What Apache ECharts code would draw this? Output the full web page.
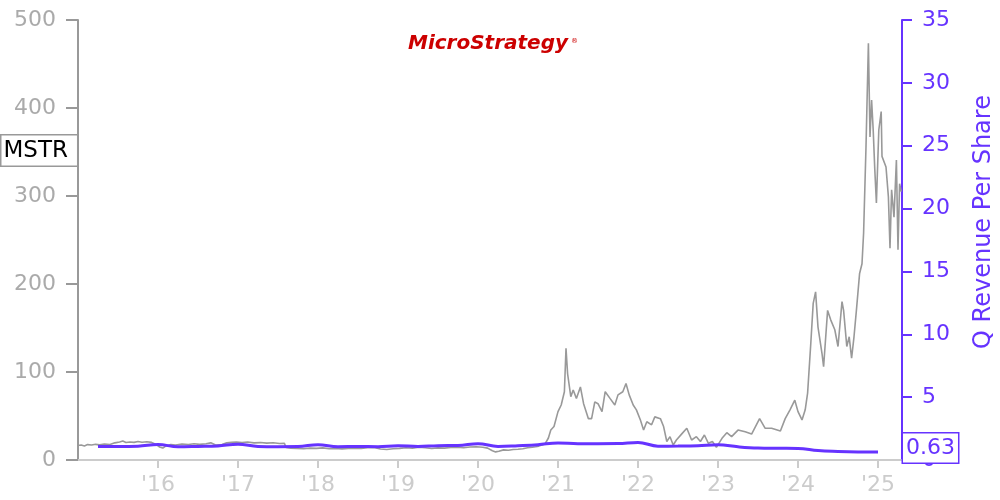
<!DOCTYPE html>
<html>
<head>
<meta charset="utf-8">
<script src="https://cdn.jsdelivr.net/npm/echarts@6/dist/echarts.min.js"></script>
<style>html,body{margin:0;padding:0;background:#fff}#c{width:1000px;height:500px}</style>
</head>
<body>
<div id="c"></div>
<script>
// MSTR share price (split-adjusted), decimal year -> price
const priceYears = [2015.00,2015.04,2015.08,2015.12,2015.17,2015.22,2015.27,2015.33,2015.40,2015.46,2015.52,2015.56,2015.60,2015.65,2015.70,2015.75,2015.80,2015.86,2015.92,2015.97,
2016.02,2016.06,2016.10,2016.16,2016.22,2016.30,2016.38,2016.45,2016.52,2016.60,2016.66,2016.72,2016.80,2016.86,2016.92,2016.98,
2017.05,2017.12,2017.20,2017.28,2017.36,2017.44,2017.52,2017.58,2017.60,2017.66,2017.74,2017.82,2017.90,2017.98,
2018.06,2018.14,2018.22,2018.30,2018.38,2018.46,2018.54,2018.62,2018.70,2018.78,2018.86,2018.94,
2019.02,2019.10,2019.18,2019.26,2019.34,2019.42,2019.50,2019.58,2019.66,2019.74,2019.82,2019.90,2019.98,
2020.06,2020.12,2020.18,2020.22,2020.26,2020.32,2020.38,2020.44,2020.50,2020.56,2020.62,2020.68,2020.72,2020.76,2020.80,2020.84,2020.88,2020.91,2020.95,
2021.00,2021.04,2021.08,2021.10,2021.12,2021.16,2021.19,2021.23,2021.28,2021.32,2021.38,2021.42,2021.46,2021.50,2021.55,2021.59,2021.65,2021.71,2021.75,2021.81,2021.85,2021.89,2021.94,2021.98,
2022.03,2022.07,2022.11,2022.17,2022.21,2022.28,2022.32,2022.36,2022.40,2022.44,2022.48,2022.55,2022.61,2022.67,2022.73,2022.78,2022.83,2022.88,2022.93,2022.98,
2023.05,2023.11,2023.17,2023.25,2023.34,2023.42,2023.52,2023.59,2023.67,2023.78,2023.84,2023.90,2023.96,
2024.00,2024.05,2024.09,2024.12,2024.16,2024.19,2024.22,2024.25,2024.30,2024.32,2024.37,2024.41,2024.46,2024.50,2024.55,2024.57,2024.61,2024.64,2024.67,2024.70,2024.73,2024.77,2024.80,2024.82,2024.85,2024.88,2024.90,2024.92,2024.94,2024.96,2024.98,
2025.01,2025.04,2025.05,2025.10,2025.13,2025.15,2025.17,2025.20,2025.23,2025.25,2025.27,2025.29];
const priceValues = [16.5,17.0,16.0,17.5,17.0,17.8,17.2,18.0,17.5,19.5,20.5,21.5,19.8,20.5,20.0,21.0,20.2,20.8,20.0,18.0,
14.8,13.5,16.0,17.5,17.0,18.0,17.6,18.5,17.8,18.5,19.5,17.0,17.5,19.5,20.0,20.5,
19.8,20.5,19.5,19.8,19.2,19.6,18.8,19.0,14.2,13.5,13.2,12.8,13.5,13.2,
13.8,12.8,13.2,12.6,13.0,13.5,13.2,14.0,14.2,12.5,12.0,12.8,
13.2,14.0,13.5,14.5,14.0,13.0,13.8,13.5,14.2,14.5,14.0,14.8,15.0,
14.5,13.5,10.5,9.2,10.0,11.5,11.0,12.0,12.2,12.8,14.0,14.5,15.0,15.8,17.0,18.5,25.0,34.0,38.0,
55.0,62.5,77.6,127.0,98.0,72.0,79.5,70.0,83.0,64.0,47.0,47.0,66.0,64.0,55.0,77.6,70.0,62.5,74.0,77.6,87.0,74.0,62.5,57.0,
45.5,34.0,43.5,40.0,49.0,47.0,38.0,21.0,26.5,17.0,22.7,30.0,36.0,22.7,26.5,21.0,28.4,19.0,21.0,14.4,
24.6,31.0,26.5,34.0,32.0,29.5,47.0,36.0,36.0,33.0,47.0,57.0,68.0,
55.0,45.5,57.0,76.0,132.6,178.0,191.0,151.0,121.0,106.0,170.0,159.0,148.0,129.0,180.0,170.0,129.0,140.0,115.6,140.0,170.0,212.0,223.0,258.0,356.0,473.5,367.0,409.0,375.0,330.0,292.0,
375.0,396.0,345.0,333.0,299.0,240.6,307.0,276.0,341.0,239.0,314.0,305.0];

// Quarterly revenue per share (split-adjusted)
const revYears = [2015.25,2015.5,2015.75,2016.0,2016.25,2016.5,2016.75,2017.0,2017.25,2017.5,2017.75,2018.0,2018.25,2018.5,2018.75,2019.0,2019.25,2019.5,2019.75,2020.0,
2020.25,2020.5,2020.75,2021.0,2021.25,2021.5,2021.75,2022.0,2022.25,2022.5,2022.75,2023.0,2023.25,2023.5,2023.75,2024.0,2024.25,2024.5,2024.75,2025.0];
const revValues = [1.08,1.08,1.10,1.24,1.05,1.08,1.12,1.25,1.08,1.06,1.07,1.22,1.06,1.08,1.06,1.13,1.08,1.14,1.15,1.30,
1.08,1.14,1.22,1.36,1.30,1.30,1.31,1.40,1.10,1.11,1.14,1.21,1.05,0.95,0.93,0.92,0.75,0.68,0.64,0.63];

const xMin = 2015, xMax = 2025.3;
const leftTicks = [0,100,200,300,400,500];
const rightTicks = [0,5,10,15,20,25,30,35];

const purple = '#6633ff';
const font = 'DejaVu Sans';

const chart = echarts.init(document.getElementById('c'));
const option = {
  animation: false,
  backgroundColor: '#fff',
  grid: {left: 78, right: 98, top: 20, bottom: 40, containLabel: false, outerBoundsMode: 'none'},
  xAxis: {
    type: 'value', min: xMin, max: xMax, interval: 1,
    axisLine: {show: true, lineStyle: {color: '#cccccc', width: 2}},
    axisTick: {show: true, length: 8, lineStyle: {color: '#cccccc', width: 2}},
    splitLine: {show: false},
    axisLabel: {showMinLabel: false, showMaxLabel: false, color: '#cccccc', fontSize: 22, fontFamily: font, margin: 14,
      formatter: v => "'" + String(Math.round(v) % 100).padStart(2, '0')}
  },
  yAxis: [{
    type: 'value', min: leftTicks[0], max: leftTicks[leftTicks.length-1], interval: 100, position: 'left',
    axisLine: {show: true, lineStyle: {color: '#999999', width: 2}},
    axisTick: {show: true, length: 12, lineStyle: {color: '#999999', width: 2}},
    splitLine: {show: false},
    axisLabel: {color: '#aaaaaa', fontSize: 22, fontFamily: font, margin: 22}
  }, {
    type: 'value', min: rightTicks[0], max: rightTicks[rightTicks.length-1], interval: 5, position: 'right',
    name: 'Q Revenue Per Share', nameLocation: 'middle', nameGap: 70, nameRotate: 90,
    nameTextStyle: {color: purple, fontSize: 24, fontFamily: font, padding: [0, 0, 0, 36]},
    axisLine: {show: true, lineStyle: {color: purple, width: 2}},
    axisTick: {show: true, length: 10, lineStyle: {color: purple, width: 2}},
    splitLine: {show: false},
    axisLabel: {color: purple, fontSize: 22, fontFamily: font, margin: 20}
  }],
  series: [{
    type: 'line', yAxisIndex: 0, showSymbol: false, symbol: 'none',
    data: priceYears.map((x, i) => [x, priceValues[i]]),
    lineStyle: {color: '#999999', width: 1.6}, z: 2
  }, {
    type: 'line', yAxisIndex: 1, showSymbol: false, symbol: 'none', smooth: 0.4,
    data: revYears.map((x, i) => [x, revValues[i]]),
    lineStyle: {color: purple, width: 3}, z: 3
  }]
};
chart.setOption(option);

const lastRev = revValues[revValues.length - 1];
const yLast = chart.convertToPixel({yAxisIndex: 1}, lastRev);
const xRight = chart.convertToPixel({xAxisIndex: 0}, xMax);
chart.setOption({
  graphic: [{
    type: 'text', left: 0, top: 134, z: 10,
    style: {text: 'MSTR', fill: '#000', font: '23px "DejaVu Sans"', backgroundColor: '#fff',
      borderColor: '#999', borderWidth: 1.5, padding: [4, 9, 3, 2]}
  }, {
    type: 'text', left: 408, top: 34, z: 10,
    style: {text: 'MicroStrategy', fill: '#cc0000', font: 'italic bold 20px "DejaVu Sans"'}
  }, {
    type: 'text', left: 571, top: 38, z: 10,
    style: {text: '®', fill: '#cc0000', font: '7px "DejaVu Sans"'}
  }, {
    type: 'text', x: xRight + 1, y: yLast - 4, z: 10,
    style: {text: lastRev.toFixed(2), fill: purple, font: '22px "DejaVu Sans"', backgroundColor: '#fff',
      borderColor: purple, borderWidth: 1.5, padding: [4, 3, 3, 3], verticalAlign: 'middle', align: 'left'}
  }]
});
</script>
</body>
</html>
